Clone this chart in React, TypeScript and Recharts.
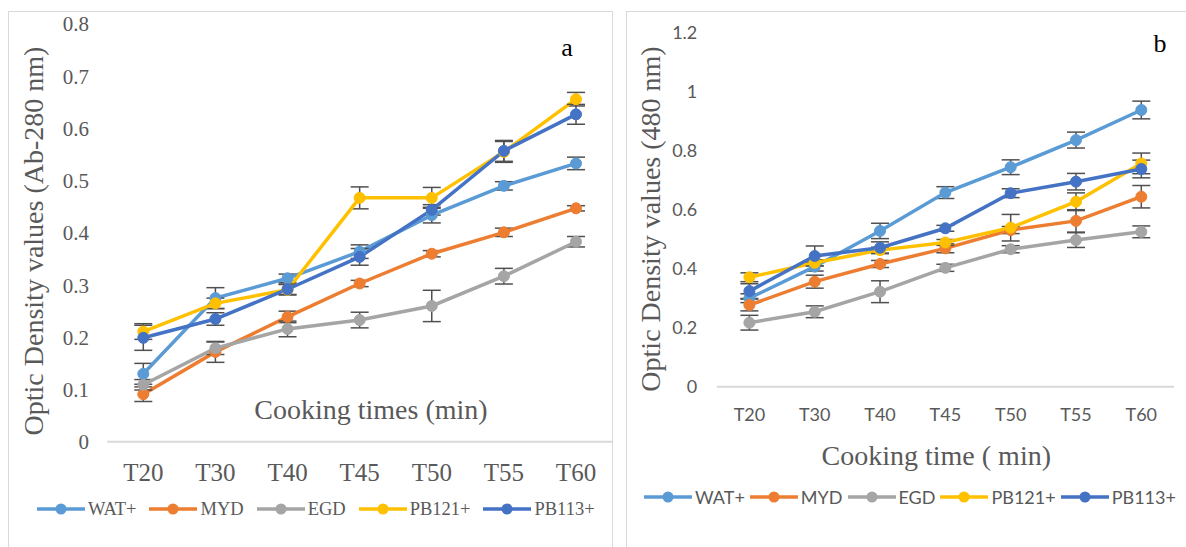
import React from 'react';
import { LineChart, Line, XAxis, YAxis, ErrorBar } from 'recharts';

const categories = ['T20', 'T30', 'T40', 'T45', 'T50', 'T55', 'T60'];
const seriesNames = ['WAT+', 'MYD', 'EGD', 'PB121+', 'PB113+'];
const seriesColors = ['#5B9BD5', '#ED7D31', '#A5A5A5', '#FFC000', '#4472C4'];

// Panel a (Ab-280 nm)
const aWAT = [0.130, 0.275, 0.313, 0.364, 0.434, 0.490, 0.533];
const aWATErr = [0.020, 0.020, 0.008, 0.013, 0.015, 0.008, 0.012];
const aMYD = [0.091, 0.172, 0.239, 0.303, 0.360, 0.401, 0.447];
const aMYDErr = [0.014, 0.020, 0.011, 0.006, 0.006, 0.008, 0.005];
const aEGD = [0.109, 0.179, 0.216, 0.233, 0.260, 0.317, 0.383];
const aEGDErr = [0.010, 0.012, 0.015, 0.015, 0.030, 0.015, 0.010];
const aPB121 = [0.211, 0.265, 0.291, 0.467, 0.467, 0.555, 0.656];
const aPB121Err = [0.015, 0.010, 0.010, 0.021, 0.020, 0.020, 0.013];
const aPB113 = [0.199, 0.235, 0.292, 0.354, 0.444, 0.557, 0.627];
const aPB113Err = [0.024, 0.012, 0.010, 0.016, 0.010, 0.020, 0.019];
const aTicks = [0, 0.1, 0.2, 0.3, 0.4, 0.5, 0.6, 0.7, 0.8];

// Panel b (480 nm)
const bWAT = [0.300, 0.407, 0.528, 0.658, 0.744, 0.836, 0.938];
const bWATErr = [0.015, 0.015, 0.026, 0.020, 0.025, 0.027, 0.030];
const bMYD = [0.277, 0.356, 0.416, 0.469, 0.531, 0.562, 0.644];
const bMYDErr = [0.020, 0.022, 0.012, 0.015, 0.012, 0.038, 0.038];
const bEGD = [0.217, 0.254, 0.322, 0.403, 0.466, 0.497, 0.525];
const bEGDErr = [0.025, 0.020, 0.037, 0.012, 0.012, 0.025, 0.020];
const bPB121 = [0.371, 0.420, 0.463, 0.489, 0.539, 0.627, 0.757];
const bPB121Err = [0.015, 0.010, 0.010, 0.010, 0.045, 0.030, 0.035];
const bPB113 = [0.324, 0.443, 0.471, 0.537, 0.656, 0.695, 0.738];
const bPB113Err = [0.025, 0.034, 0.020, 0.010, 0.015, 0.028, 0.030];
const bTicks = [0, 0.2, 0.4, 0.6, 0.8, 1, 1.2];

const aSeries = [[aWAT, aWATErr], [aMYD, aMYDErr], [aEGD, aEGDErr], [aPB121, aPB121Err], [aPB113, aPB113Err]];
const bSeries = [[bWAT, bWATErr], [bMYD, bMYDErr], [bEGD, bEGDErr], [bPB121, bPB121Err], [bPB113, bPB113Err]];

function buildRows(series: number[][][]) {
  return categories.map((c, i) => {
    const row: any = { cat: c };
    series.forEach(([vals, errs], k) => {
      row['s' + k] = vals[i];
      row['e' + k] = errs[i];
    });
    return row;
  });
}

const rowsA = buildRows(aSeries);
const rowsB = buildRows(bSeries);

const SERIF = '"Liberation Serif", "Times New Roman", serif';
const SANS = 'Lato, "Liberation Sans", sans-serif';
const GRAY_TEXT = '#595959';
const AXIS_GRAY = '#D9D9D9';

function renderLines() {
  return seriesNames.map((name, k) => (
    <Line
      key={name}
      type="linear"
      dataKey={'s' + k}
      name={name}
      stroke={seriesColors[k]}
      strokeWidth={3.5}
      dot={{ r: 5.5, fill: seriesColors[k], stroke: seriesColors[k], strokeWidth: 1 }}
      activeDot={false}
      isAnimationActive={false}
    >
      <ErrorBar dataKey={'e' + k} direction="y" width={9} stroke="#505050" strokeWidth={1.5} />
    </Line>
  ));
}

function Legend({ left, top, font, size, lineW, gap, textGap }: any) {
  return (
    <div
      style={{
        position: 'absolute',
        left,
        top,
        height: 24,
        display: 'flex',
        alignItems: 'center',
        whiteSpace: 'nowrap',
        fontFamily: font,
        fontSize: size,
        color: GRAY_TEXT,
      }}
    >
      {seriesNames.map((n, k) => (
        <div key={n} style={{ display: 'flex', alignItems: 'center', marginRight: gap }}>
          <svg width={lineW} height={14}>
            <line x1={0} y1={7} x2={lineW} y2={7} stroke={seriesColors[k]} strokeWidth={3.5} />
            <circle cx={lineW / 2} cy={7} r={5.5} fill={seriesColors[k]} />
          </svg>
          <span style={{ marginLeft: textGap, lineHeight: '24px' }}>{n}</span>
        </div>
      ))}
    </div>
  );
}

export default function App() {
  return (
    <div
      style={{
        position: 'fixed',
        left: 0,
        top: 0,
        width: 1186,
        height: 547,
        overflow: 'hidden',
        background: '#ffffff',
      }}
    >
      {/* panel borders */}
      <div style={{ position: 'absolute', left: 8, top: 11, width: 603, height: 560, border: `1.5px solid ${AXIS_GRAY}` }} />
      <div style={{ position: 'absolute', left: 626, top: 11, width: 600, height: 560, border: `1.5px solid ${AXIS_GRAY}` }} />

      {/* Panel a */}
      <div style={{ position: 'absolute', left: 0, top: 0 }}>
        <LineChart width={612} height={547} data={rowsA} margin={{ top: 24, right: 0, bottom: 60.3, left: 0 }}>
          <XAxis
            dataKey="cat"
            height={45}
            interval={0}
            padding={{ left: 36, right: 36 }}
            tickLine={false}
            tickSize={0}
            tickMargin={21.5}
            axisLine={{ stroke: AXIS_GRAY, strokeWidth: 2 }}
            tick={{ fill: GRAY_TEXT, fontSize: 25, fontFamily: SERIF }}
          />
          <YAxis
            width={107.3}
            domain={[0, 0.8]}
            ticks={aTicks}
            interval={0}
            axisLine={false}
            tickLine={false}
            tickSize={0}
            tickMargin={18.3}
            tick={{ fill: GRAY_TEXT, fontSize: 21, fontFamily: SERIF }}
          />
          {renderLines()}
        </LineChart>
      </div>

      {/* Panel b */}
      <div style={{ position: 'absolute', left: 612, top: 0 }}>
        <LineChart width={574} height={547} data={rowsB} margin={{ top: 32.7, right: 12, bottom: 115.3, left: 0 }}>
          <XAxis
            dataKey="cat"
            height={45}
            interval={0}
            padding={{ left: 32.7, right: 32.7 }}
            tickLine={false}
            tickSize={0}
            tickMargin={22}
            axisLine={{ stroke: AXIS_GRAY, strokeWidth: 2 }}
            tick={{ fill: GRAY_TEXT, fontSize: 18, fontFamily: SANS }}
          />
          <YAxis
            width={104.7}
            domain={[0, 1.2]}
            ticks={bTicks}
            interval={0}
            axisLine={false}
            tickLine={false}
            tickSize={0}
            tickMargin={19.4}
            tick={{ fill: GRAY_TEXT, fontSize: 18, fontFamily: SANS }}
          />
          {renderLines()}
        </LineChart>
      </div>

      {/* titles overlay */}
      <svg width={1186} height={547} style={{ position: 'absolute', left: 0, top: 0, pointerEvents: 'none' }}>
        <text
          transform="translate(33,241) rotate(-90)"
          textAnchor="middle"
          dominantBaseline="central"
          fontFamily={SERIF}
          fontSize={28}
          fill={GRAY_TEXT}
        >
          Optic Density values (Ab-280 nm)
        </text>
        <text x={371} y={409.3} textAnchor="middle" dominantBaseline="central" fontFamily={SERIF} fontSize={28} fill={GRAY_TEXT}>
          Cooking times (min)
        </text>
        <text x={567} y={47} textAnchor="middle" dominantBaseline="central" fontFamily={SERIF} fontSize={26} fill="#000000">
          a
        </text>

        <text
          transform="translate(650,219) rotate(-90)"
          textAnchor="middle"
          dominantBaseline="central"
          fontFamily={SERIF}
          fontSize={28}
          fill={GRAY_TEXT}
        >
          Optic Density values (480 nm)
        </text>
        <text x={936.3} y={455} textAnchor="middle" dominantBaseline="central" fontFamily={SERIF} fontSize={28} fill={GRAY_TEXT}>
          Cooking time ( min)
        </text>
        <text x={1160} y={43.3} textAnchor="middle" dominantBaseline="central" fontFamily={SERIF} fontSize={26} fill="#000000">
          b
        </text>
      </svg>

      <Legend left={37} top={497.3} font={SERIF} size={18.5} lineW={48} gap={13} textGap={3} />
      <Legend left={644} top={485.3} font={SANS} size={18} lineW={48} gap={5} textGap={3} />
    </div>
  );
}
